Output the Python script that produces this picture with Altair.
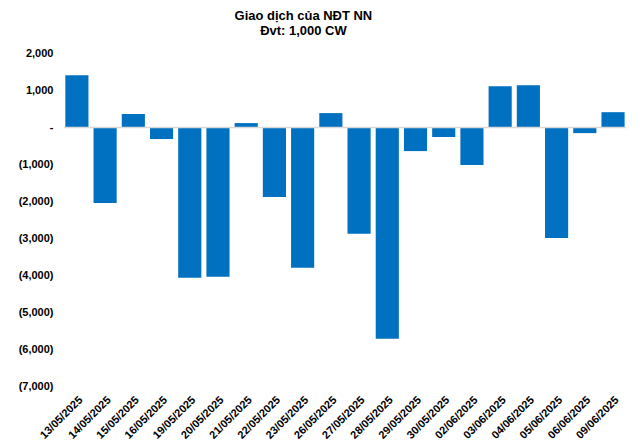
import altair as alt
import pandas as pd

dates = ["13/05/2025", "14/05/2025", "15/05/2025", "16/05/2025", "19/05/2025",
         "20/05/2025", "21/05/2025", "22/05/2025", "23/05/2025", "26/05/2025",
         "27/05/2025", "28/05/2025", "29/05/2025", "30/05/2025", "02/06/2025",
         "03/06/2025", "04/06/2025", "05/06/2025", "06/06/2025", "09/06/2025"]
values = [1410, -2040, 360, -315, -4060,
          -4030, 115, -1880, -3790, 385,
          -2870, -5705, -640, -260, -1015,
          1110, 1140, -2985, -155, 410]
y_ticks = [-7000, -6000, -5000, -4000, -3000, -2000, -1000, 0, 1000, 2000]

df = pd.DataFrame({"date": dates, "value": values})
zero_df = pd.DataFrame({"value": [0]})

FONT = "Liberation Sans"

y_axis = alt.Axis(values=y_ticks, domain=False, ticks=False, grid=False,
                  labelFont=FONT, labelFontSize=11, labelFontWeight="bold",
                  labelColor="#000000", labelPadding=11, minExtent=56,
                  labelOverlap=False,
                  labelExpr="datum.value == 0 ? '-' : (datum.value < 0 ? '(' + format(-datum.value, ',') + ')' : format(datum.value, ','))")
y_scale = alt.Scale(domain=[-7000, 2000], nice=False, zero=False)

bars = alt.Chart(df).mark_bar(color="#0070C0").encode(
    x=alt.X("date:N", sort=dates, title=None,
            scale=alt.Scale(paddingInner=0.18, paddingOuter=0.05),
            axis=alt.Axis(labelAngle=-45, domain=False, ticks=False,
                          labelFont=FONT, labelFontSize=11, labelFontWeight="bold",
                          labelColor="#000000", labelPadding=7, labelOverlap=False)),
    y=alt.Y("value:Q", title=None, scale=y_scale, axis=y_axis),
)

zero = alt.Chart(zero_df).mark_rule(color="#D9D9D9", strokeWidth=1.5).encode(
    y=alt.Y("value:Q", title=None, scale=y_scale, axis=y_axis)
)

chart = alt.layer(bars, zero).properties(
    width=563, height=334,
    padding={"left": 0, "top": 2, "right": 5, "bottom": 0},
    title=alt.TitleParams(
        text="Giao dịch của NĐT NN",
        subtitle="Đvt: 1,000 CW",
        font=FONT, fontSize=13, fontWeight="bold", color="#000000",
        subtitleFont=FONT, subtitleFontSize=13, subtitleFontWeight="bold",
        subtitleColor="#000000", subtitlePadding=2,
        anchor="middle", frame="bounds", offset=9, dx=-14,
    ),
).configure_view(stroke=None)

chart.save("out.html", embed_options={"renderer": "svg", "actions": False})
